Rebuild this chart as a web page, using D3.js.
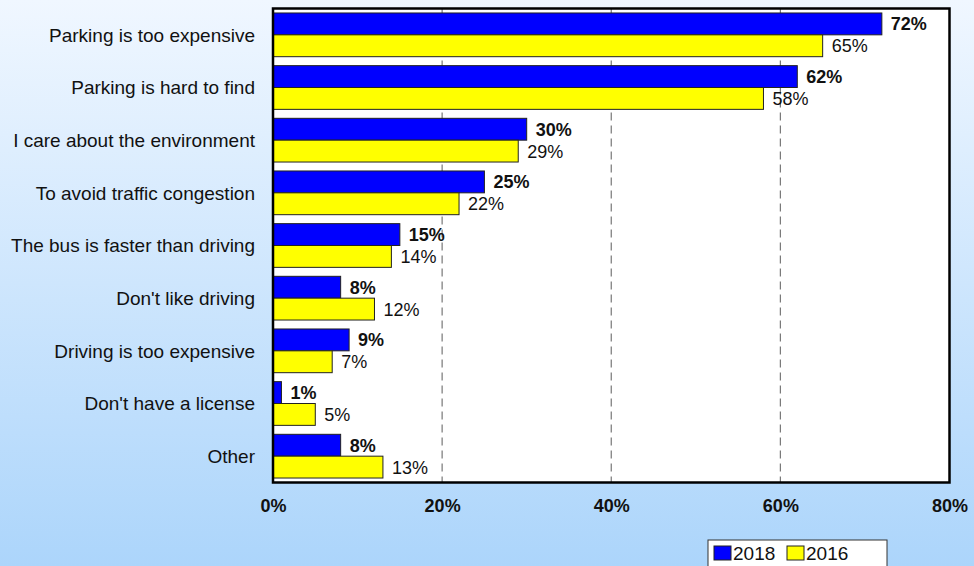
<!DOCTYPE html>
<html>
<head>
<meta charset="utf-8">
<script src="https://cdn.jsdelivr.net/npm/d3@7/dist/d3.min.js"></script>
<style>
  html, body { margin: 0; padding: 0; }
  svg { display: block; font-family: "Liberation Sans", Arial, sans-serif; }
</style>
</head>
<body>
<svg id="chart" width="974" height="566"></svg>
<script>
// Reasons for riding the bus, survey results by year
const categories = [
  "Parking is too expensive",
  "Parking is hard to find",
  "I care about the environment",
  "To avoid traffic congestion",
  "The bus is faster than driving",
  "Don't like driving",
  "Driving is too expensive",
  "Don't have a license",
  "Other"
];
const values2018 = [72, 62, 30, 25, 15, 8, 9, 1, 8];
const values2016 = [65, 58, 29, 22, 14, 12, 7, 5, 13];
const seriesNames = ["2018", "2016"];
const tickValues = [0, 20, 40, 60, 80];

const svg = d3.select("#chart");
const W = 974, H = 566;

// background gradient
const defs = svg.append("defs");
const grad = defs.append("linearGradient").attr("id", "bg").attr("x1", 0).attr("y1", 0).attr("x2", 0).attr("y2", 1);
grad.append("stop").attr("offset", "0%").attr("stop-color", "#f0f7ff");
grad.append("stop").attr("offset", "100%").attr("stop-color", "#acd5fb");
svg.append("rect").attr("width", W).attr("height", H).attr("fill", "url(#bg)");

const plot = { left: 273, right: 949.5, top: 8.5, bottom: 482.5 };

const x = d3.scaleLinear().domain([0, 80]).range([plot.left, plot.right]);
const y = d3.scaleBand().domain(categories).range([plot.top, plot.bottom]).paddingInner(0.17).paddingOuter(0.085);
const sub = d3.scaleBand().domain(seriesNames).range([0, y.bandwidth()]);

// plot area
svg.append("rect")
  .attr("x", plot.left).attr("y", plot.top)
  .attr("width", plot.right - plot.left).attr("height", plot.bottom - plot.top)
  .attr("fill", "#ffffff");

// dashed gridlines
svg.append("g").selectAll("line")
  .data(tickValues.filter(d => d > 0 && d < 80))
  .join("line")
  .attr("x1", d => x(d)).attr("x2", d => x(d))
  .attr("y1", plot.top).attr("y2", plot.bottom)
  .attr("stroke", "#777").attr("stroke-width", 1.2)
  .attr("stroke-dasharray", "8,5");

const colors = { "2018": "#0000ff", "2016": "#ffff00" };
const series = [
  { name: "2018", values: values2018, weight: "bold" },
  { name: "2016", values: values2016, weight: "normal" }
];

series.forEach(s => {
  const g = svg.append("g");
  const rows = categories.map((c, i) => ({ c, v: s.values[i] }));
  g.selectAll("rect").data(rows).join("rect")
    .attr("x", x(0))
    .attr("y", d => y(d.c) + sub(s.name))
    .attr("width", d => x(d.v) - x(0))
    .attr("height", sub.bandwidth())
    .attr("fill", colors[s.name])
    .attr("stroke", "#222").attr("stroke-width", 1);
  g.selectAll("text").data(rows).join("text")
    .attr("x", d => x(d.v) + 9)
    .attr("y", d => y(d.c) + sub(s.name) + sub.bandwidth() / 2)
    .attr("dy", "0.36em")
    .attr("font-size", 18)
    .attr("font-weight", s.weight)
    .attr("fill", "#111")
    .text(d => d.v + "%");
});

// plot border
svg.append("rect")
  .attr("x", plot.left).attr("y", plot.top)
  .attr("width", plot.right - plot.left).attr("height", plot.bottom - plot.top)
  .attr("fill", "none").attr("stroke", "#000").attr("stroke-width", 2.5);

// category labels
svg.append("g").selectAll("text").data(categories).join("text")
  .attr("x", 255)
  .attr("y", d => y(d) + y.bandwidth() / 2)
  .attr("dy", "0.36em")
  .attr("text-anchor", "end")
  .attr("font-size", 19)
  .attr("fill", "#111")
  .text(d => d);

// x axis labels
const xAxis = d3.axisBottom(x).tickValues(tickValues).tickSize(0).tickPadding(17).tickFormat(d => d + "%");
const ax = svg.append("g").attr("transform", `translate(0,${plot.bottom})`).call(xAxis);
ax.select(".domain").remove();
ax.selectAll("text").attr("font-size", 18).attr("font-weight", "bold").attr("fill", "#111")
  .attr("font-family", "'Liberation Sans', Arial, sans-serif");

// legend
const lg = svg.append("g").attr("transform", "translate(708,540)");
lg.append("rect").attr("width", 179).attr("height", 34).attr("fill", "#fff").attr("stroke", "#333").attr("stroke-width", 1);
series.forEach((s, i) => {
  const gx = 6 + i * 73;
  lg.append("rect").attr("x", gx).attr("y", 6).attr("width", 17).attr("height", 14)
    .attr("fill", colors[s.name]).attr("stroke", "#222").attr("stroke-width", 1);
  lg.append("text").attr("x", gx + 19).attr("y", 13).attr("dy", "0.36em")
    .attr("font-size", 19).attr("fill", "#111").text(s.name);
});
</script>
</body>
</html>
